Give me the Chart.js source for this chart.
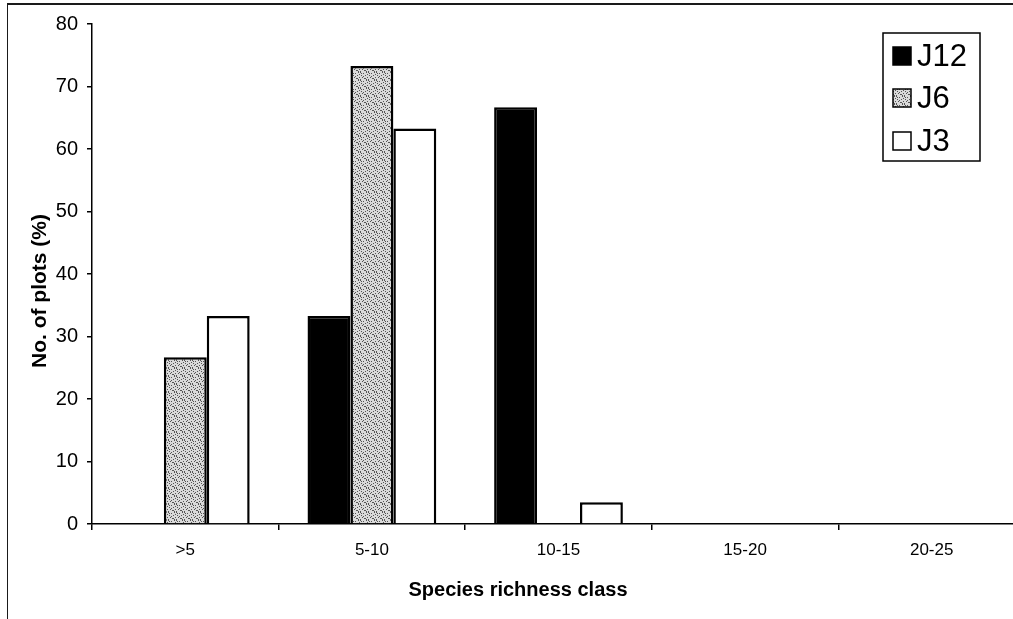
<!DOCTYPE html>
<html><head><meta charset="utf-8">
<script src="https://cdn.jsdelivr.net/npm/chart.js@4.4.1/dist/chart.umd.min.js"></script>
<style>
html,body{margin:0;padding:0;background:#fff;overflow:hidden;}
#wrap{position:relative;width:1013px;height:619px;overflow:hidden;background:#fff;}
canvas{position:absolute;left:0;top:0;}
#frameTop{position:absolute;left:7px;top:3px;width:1020px;height:0;border-top:2px solid #1a1a1a;}
#frameLeft{position:absolute;left:7px;top:3px;width:0;height:630px;border-left:1.5px solid #1a1a1a;}
</style></head>
<body>
<div id="wrap">
  <canvas id="c" width="1040" height="619"></canvas>
  <div id="frameTop"></div><div id="frameLeft"></div>
</div>
<script>
// ---- data ----
const categories = ['>5', '5-10', '10-15', '15-20', '20-25'];
const seriesNames = ['J12', 'J6', 'J3'];
const j12Values = [0, 33.3, 66.7, 0, 0];
const j6Values = [26.7, 73.3, 0, 0, 0];
const j3Values = [33.3, 63.3, 3.5, 0, 0];
const yMin = 0, yMax = 80, yStep = 10;
const xTitle = 'Species richness class';
const yTitle = 'No. of plots (%)';

const FONT = '"Liberation Sans", Arial, Helvetica, sans-serif';

function makeStipple() {
  const c = document.createElement('canvas');
  c.width = 8; c.height = 8;
  const g = c.getContext('2d');
  g.fillStyle = '#dadada';
  g.fillRect(0, 0, 8, 8);
  const dots = [[0,0],[3,1],[6,0],[1,3],[5,3],[2,5],[7,5],[4,6],[0,7],[6,7],[3,4],[7,2],[1,1],[5,6]];
  g.fillStyle = '#555555';
  dots.forEach(([x, y]) => g.fillRect(x, y, 1, 1));
  return g.createPattern(c, 'repeat');
}
const stipple = makeStipple();

const fills = ['#000000', stipple, '#ffffff'];
const seriesData = [j12Values, j6Values, j3Values];

const datasets = seriesNames.map((name, i) => ({
  label: name,
  data: seriesData[i],
  backgroundColor: fills[i],
  borderColor: '#000000',
  borderWidth: 2.5,
  borderSkipped: 'start',
  categoryPercentage: 0.69,
  barPercentage: 1.0
}));

const overlayPlugin = {
  id: 'overlay',
  afterDraw(chart) {
    const ctx = chart.ctx;
    ctx.save();
    // axis titles
    ctx.fillStyle = '#000';
    ctx.textAlign = 'center';
    ctx.textBaseline = 'middle';
    ctx.font = 'bold 20px ' + FONT;
    ctx.fillText(xTitle, 518, 590);
    ctx.save();
    ctx.font = 'bold 21px ' + FONT;
    ctx.translate(40, 291);
    ctx.rotate(-Math.PI / 2);
    ctx.fillText(yTitle, 0, 0);
    ctx.restore();

    // legend
    const bx = 883, by = 33, bw = 97, bh = 128;
    ctx.lineWidth = 1.5;
    ctx.strokeStyle = '#000';
    ctx.fillStyle = '#fff';
    ctx.fillRect(bx, by, bw, bh);
    ctx.strokeRect(bx, by, bw, bh);
    const ys = [56, 98, 141];
    ctx.font = '31px ' + FONT;
    ctx.textAlign = 'left';
    ctx.textBaseline = 'middle';
    chart.data.datasets.forEach((ds, i) => {
      const sy = ys[i];
      ctx.fillStyle = ds.backgroundColor;
      ctx.fillRect(893, sy - 9, 18, 18);
      ctx.lineWidth = 1.5;
      ctx.strokeStyle = '#000';
      ctx.strokeRect(893, sy - 9, 18, 18);
      ctx.fillStyle = '#000';
      ctx.fillText(ds.label, 917, sy + 1);
    });
    ctx.restore();
  }
};

new Chart(document.getElementById('c'), {
  type: 'bar',
  data: { labels: categories, datasets },
  options: {
    responsive: false,
    animation: false,
    devicePixelRatio: 1,
    layout: { padding: { left: 0, top: 24, right: 15, bottom: 0 } },
    plugins: { legend: { display: false }, tooltip: { enabled: false } },
    scales: {
      x: {
        offset: true,
        grid: { display: true, offset: true, drawOnChartArea: false, drawTicks: true, tickLength: 6, color: '#000', lineWidth: 1.5 },
        border: { display: true, color: '#000', width: 1.5 },
        ticks: { color: '#000', font: { family: FONT, size: 17 }, padding: 10, maxRotation: 0, autoSkip: false },
        afterFit(s) { s.height = 95; }
      },
      y: {
        min: yMin, max: yMax,
        grid: { display: true, drawOnChartArea: false, drawTicks: true, tickLength: 5, color: '#000', lineWidth: 1.5 },
        border: { display: true, color: '#000', width: 1.5 },
        ticks: { stepSize: yStep, color: '#000', font: { family: FONT, size: 20 }, padding: 9 },
        afterFit(s) { s.width = 92; }
      }
    }
  },
  plugins: [overlayPlugin]
});
</script>
</body></html>
